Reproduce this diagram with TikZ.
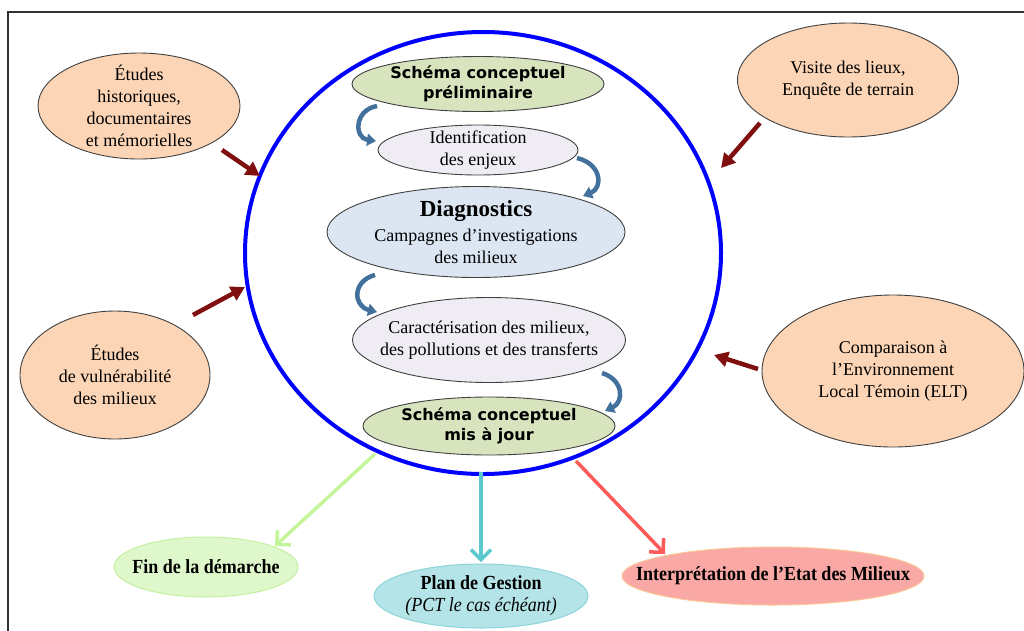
\documentclass[tikz,border=0pt]{standalone}
\usepackage{fontspec}
\setmainfont{Liberation Serif}
\newfontfamily\headfont{DejaVu Sans}
\newfontfamily\condfont[FakeStretch=0.9]{Liberation Serif}
\usetikzlibrary{shapes.geometric,arrows.meta}
\definecolor{peach}{RGB}{251,213,181}
\definecolor{sgreen}{RGB}{216,228,190}
\definecolor{lav}{RGB}{239,237,243}
\definecolor{lblue}{RGB}{220,230,242}
\definecolor{cblue}{RGB}{65,113,156}
\definecolor{dred}{RGB}{128,16,16}
\definecolor{fingreen}{RGB}{222,248,204}
\definecolor{finborder}{RGB}{196,240,160}
\definecolor{plfill}{RGB}{180,228,231}
\definecolor{plborder}{RGB}{140,212,217}
\definecolor{infill}{RGB}{249,168,166}
\definecolor{inborder}{RGB}{250,200,150}
\definecolor{garrow}{RGB}{196,245,155}
\definecolor{tarrow}{RGB}{91,200,205}
\definecolor{rarrow}{RGB}{255,90,90}
\newcommand\txsz{\fontsize{18}{22}\selectfont}
\newcommand\cdsz{\condfont\fontsize{20}{22}\selectfont}
\newcommand\hdsz{\headfont\bfseries\fontsize{16}{20.5}\selectfont}
\begin{document}
\begin{tikzpicture}[x=1pt,y=-1pt,
  oval/.style={ellipse, draw=black!75, line width=0.9pt, inner sep=0pt},
  lbl/.style={align=center, inner sep=0pt, font=\txsz},
  clbl/.style={align=center, inner sep=0pt, font=\cdsz},
  hlbl/.style={align=center, inner sep=0pt, font=\hdsz},
  curv/.style={draw=cblue, line width=4.5pt, -{Triangle[length=9pt,width=12pt]}},
  inarr/.style={draw=dred, line width=4.5pt, -{Triangle[length=14pt,width=15pt]}},
  outarr/.style={line width=3.5pt, -{Straight Barb[length=10pt,width=20pt]}}]
\useasboundingbox (0,0) rectangle (1024,630);
\clip (0,0) rectangle (1024,630);
\draw[line width=1.2pt, black!80] (8,12) rectangle (1040,650);

% big cycle
\node[ellipse, draw=blue, line width=4pt, minimum width=476, minimum height=442, inner sep=0pt] (cycle) at (483,253) {};

% inner nodes
\node[oval, fill=sgreen, minimum width=252, minimum height=55] (scp) at (478,84) {};
\node[hlbl] at (scp) {Schéma conceptuel\\préliminaire};
\node[oval, fill=lav, minimum width=200, minimum height=50] (ide) at (478,150) {};
\node[lbl] at (ide) {Identification\\des enjeux};
\node[oval, fill=lblue, minimum width=298, minimum height=91] (dia) at (476,232) {};
\node[lbl] at (dia) {{\fontsize{23}{26}\selectfont\bfseries Diagnostics}\\[3pt]Campagnes d’investigations\\des milieux};
\node[oval, fill=lav, minimum width=273, minimum height=85] (car) at (489,340) {};
\node[lbl] at (car) {Caractérisation des milieux,\\des pollutions et des transferts};
\node[oval, fill=sgreen, minimum width=252, minimum height=58] (scm) at (489,426) {};
\node[hlbl] at (scm) {Schéma conceptuel\\mis à jour};

% curved arrows
\coordinate (c1a) at (377,106); \coordinate (c1b) at (376,141);
\coordinate (c2a) at (577,158); \coordinate (c2b) at (583,196);
\coordinate (c3a) at (375,275); \coordinate (c3b) at (377,312);
\coordinate (c4a) at (602,373); \coordinate (c4b) at (605,411);
\draw[curv] (c1a) .. controls (354,110) and (354,138) .. (c1b);
\draw[curv] (c2a) .. controls (602,164) and (603,188) .. (c2b);
\draw[curv] (c3a) .. controls (352,281) and (353,306) .. (c3b);
\draw[curv] (c4a) .. controls (624,380) and (624,402) .. (c4b);

% outer nodes
\node[oval, fill=peach, minimum width=202, minimum height=106] (his) at (139,106) {};
\node[lbl] at (his) {Études\\historiques,\\documentaires\\et mémorielles};
\node[oval, fill=peach, minimum width=221, minimum height=114] (vis) at (848,80) {};
\node[lbl] at (vis) {Visite des lieux,\\Enquête de terrain};
\node[oval, fill=peach, minimum width=190, minimum height=128] (vul) at (115,375) {};
\node[lbl] at (vul) {Études\\de vulnérabilité\\des milieux};
\node[oval, fill=peach, minimum width=262, minimum height=152] (cmp) at (893,371) {};
\node[lbl] at (cmp) {Comparaison à\\l’Environnement\\Local Témoin (ELT)};

\coordinate (a1s) at (222,150); \coordinate (a1e) at (260,176);
\coordinate (a2s) at (193,315); \coordinate (a2e) at (245,287);
\coordinate (a3s) at (760,123); \coordinate (a3e) at (721,168);
\coordinate (a4s) at (758,369); \coordinate (a4e) at (714,355);
\draw[inarr] (a1s) -- (a1e);
\draw[inarr] (a2s) -- (a2e);
\draw[inarr] (a3s) -- (a3e);
\draw[inarr] (a4s) -- (a4e);

% bottom nodes
\node[ellipse, draw=finborder, fill=fingreen, line width=1pt, inner sep=0pt, minimum width=184, minimum height=60] (fin) at (206,567) {};
\node[clbl, font=\cdsz\bfseries] at (fin) {Fin de la démarche};
\node[ellipse, draw=plborder, fill=plfill, line width=1pt, inner sep=0pt, minimum width=214, minimum height=64] (pla) at (481,596) {};
\node[clbl] at (pla) {\bfseries Plan de Gestion\\\itshape (PCT le cas échéant)};
\node[ellipse, draw=inborder, fill=infill, line width=1pt, inner sep=0pt, minimum width=302, minimum height=58] (int) at (773,576) {};
\node[clbl, font=\cdsz\bfseries] at (int) {Interprétation de l’Etat des Milieux};

\coordinate (b1s) at (375,454); \coordinate (b1e) at (275,546);
\coordinate (b2s) at (481,472); \coordinate (b2e) at (481,562);
\coordinate (b3s) at (576,461); \coordinate (b3e) at (665,554);
\draw[outarr, draw=garrow] (b1s) -- (b1e);
\draw[outarr, draw=tarrow] (b2s) -- (b2e);
\draw[outarr, draw=rarrow] (b3s) -- (b3e);
\end{tikzpicture}
\end{document}
